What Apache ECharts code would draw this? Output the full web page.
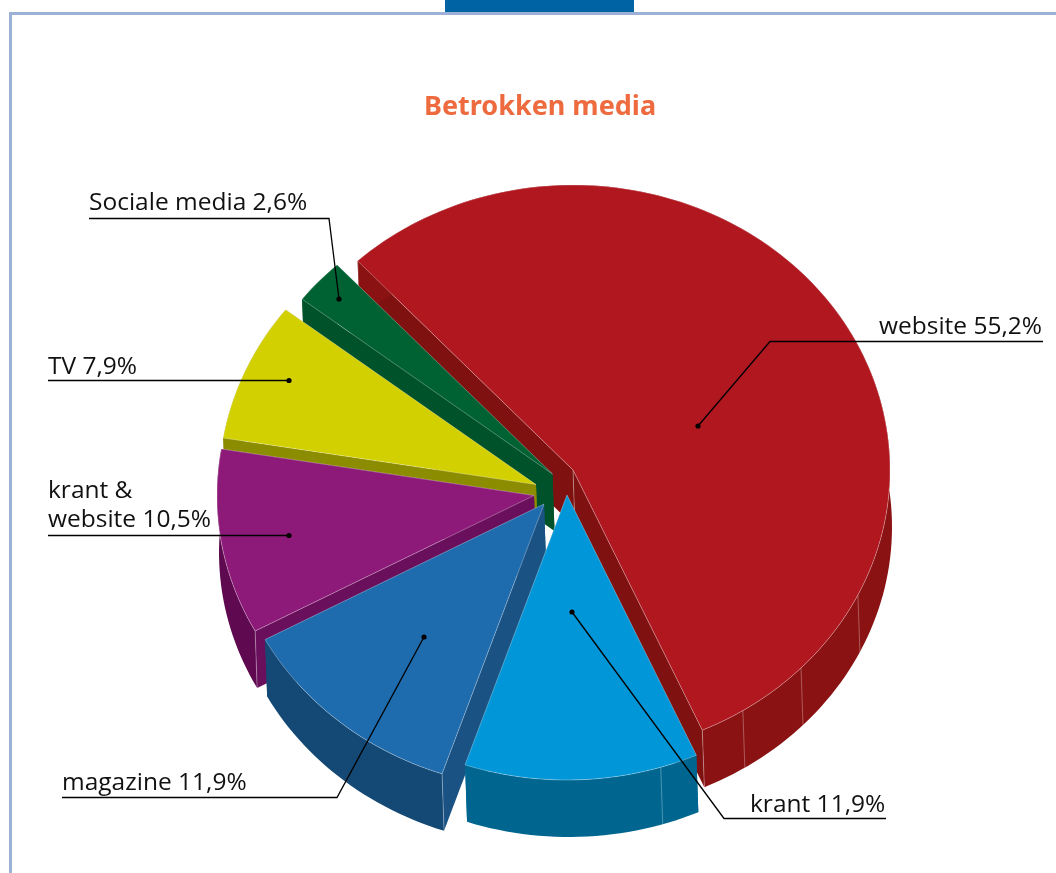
<!DOCTYPE html>
<html>
<head>
<meta charset="utf-8">
<style>html,body{margin:0;padding:0;background:#fff}#c{width:1056px;height:873px}</style>
<script src="https://cdn.jsdelivr.net/npm/echarts@6/dist/echarts.min.js"></script>
</head>
<body>
<div id="c"></div>
<script>
// ---- data ----
const titleText = 'Betrokken media';
const categories = ['website', 'krant', 'magazine', 'krant &\nwebsite', 'TV', 'Sociale media'];
const values = [55.2, 11.9, 11.9, 10.5, 7.9, 2.6];

// ---- styles ----
const topColors = ['#b1171f', '#0096d8', '#1e6bad', '#8d1a79', '#d2d000', '#006233'];
const radialColors = ['#7f1210', '#006690', '#1a5284', '#6a0f5b', '#8c8c00', '#00522a'];
const outerColors = ['#8a1212', '#006690', '#144875', '#5f0a50', '#8c8c00', '#00522a'];

// ---- layout of the exploded pie ----
const radiusX = 317, radiusY = 285, depth = 57, skew = 2, startAngle = -42.8;
const apexes = [[573, 470], [567, 495], [544, 504], [534, 495.5], [536, 484.5], [552.5, 474]];
const paintOrder = [0, 5, 4, 3, 2, 1];
const wallDividers = [[116, 134, 147.6], [162.8], [], [], [], []];
const seamCorners = [['start', 'end', 'apex'], [], ['start'], ['start'], [], []];
const leaders = [
  [[698, 426], [770, 341.5], [1043, 341.5]],
  [[572, 612], [724, 818.5], [886, 818.5]],
  [[424, 637], [337, 797.5], [62, 797.5]],
  [[289, 535.5], [48, 535.5]],
  [[289, 380.5], [48, 380.5]],
  [[339, 299], [329, 218.5], [89, 218.5]]
];
const labelAnchors = [[879, 342], [750, 820], [62, 798], [48, 535], [48, 382], [89, 218]];
const labelFont = '"Open Sans", "Noto Sans", sans-serif';

const total = values.reduce((s, v) => s + v, 0);
const spans = [];
values.reduce((acc, v, i) => {
  const next = acc + v / total * 360;
  spans[i] = [acc, next];
  return next;
}, startAngle);

const edge = 'rgba(255,255,255,0.38)';

function ellipsePoint(apex, deg) {
  const t = deg * Math.PI / 180;
  return [apex[0] + radiusX * Math.sin(t), apex[1] - radiusY * Math.cos(t)];
}
function extrude(p) {
  return [p[0] + skew, p[1] + depth];
}
function arc(apex, a0, a1) {
  const n = Math.max(2, Math.ceil(Math.abs(a1 - a0) / 1.5));
  const pts = [];
  for (let k = 0; k <= n; k++) pts.push(ellipsePoint(apex, a0 + (a1 - a0) * k / n));
  return pts;
}
function renderSlice(params) {
  const i = params.dataIndex, apex = apexes[i], s = spans[i][0], e = spans[i][1];
  const z = paintOrder.indexOf(i) * 10;
  const poly = (pts, fill, dz) => ({ type: 'polygon', z2: z + dz, shape: { points: pts }, style: { fill: fill }, silent: true });
  const line = (pts, dz) => ({ type: 'polyline', z2: z + dz, shape: { points: pts }, style: { fill: 'none', stroke: edge, lineWidth: 0.8 }, silent: true });
  const ps = ellipsePoint(apex, s), pe = ellipsePoint(apex, e);
  const corners = { start: ps, end: pe, apex: apex };
  const children = [];
  // radial cut faces
  children.push(poly([apex, ps, extrude(ps), extrude(apex)], radialColors[i], 1));
  children.push(poly([apex, pe, extrude(pe), extrude(apex)], radialColors[i], 1));
  // outer wall
  const upper = arc(apex, s, e), lower = upper.map(extrude);
  children.push(poly(upper.concat(lower.slice().reverse()), outerColors[i], 2));
  // pale vertical seams
  seamCorners[i].forEach(c => {
    const p = corners[c];
    children.push(line([p, extrude(p)], 3));
  });
  wallDividers[i].forEach(d => {
    const p = ellipsePoint(apex, d);
    children.push(line([p, extrude(p)], 3));
  });
  // top face
  const outline = [apex].concat(upper);
  children.push(poly(outline, topColors[i], 4));
  children.push(line(outline.concat([apex]), 5));
  return { type: 'group', children: children };
}

// ---- labels and leader lines ----
const annotationElements = [];
leaders.forEach((pts, i) => {
  annotationElements.push({ type: 'polyline', z: 20, silent: true, shape: { points: pts },
    style: { fill: 'none', stroke: '#000', lineWidth: 1.3 } });
  annotationElements.push({ type: 'circle', z: 21, silent: true, shape: { cx: pts[0][0], cy: pts[0][1], r: 2.6 },
    style: { fill: '#000' } });
  annotationElements.push({ type: 'text', z: 22, silent: true, x: labelAnchors[i][0], y: labelAnchors[i][1],
    style: { text: categories[i] + ' ' + values[i].toFixed(1).replace('.', ',') + '%',
      font: '24.5px ' + labelFont, lineHeight: 29, fill: '#111', textAlign: 'left', textVerticalAlign: 'bottom' } });
});

const chrome = [
  { type: 'rect', z: 0, silent: true, shape: { x: 445, y: 0, width: 189, height: 12 }, style: { fill: '#0063a3' } },
  { type: 'rect', z: 0, silent: true, shape: { x: 9, y: 12, width: 1047, height: 3 }, style: { fill: '#9db0d6' } },
  { type: 'rect', z: 0, silent: true, shape: { x: 9, y: 12, width: 3, height: 861 }, style: { fill: '#9db0d6' } }
];

const chart = echarts.init(document.getElementById('c'), null, { renderer: 'canvas', width: 1056, height: 873 });
chart.setOption({
  animation: false,
  backgroundColor: '#ffffff',
  title: { text: titleText, left: 419, top: 89,
    textStyle: { color: '#ee6a3f', fontFamily: '"Noto Sans", sans-serif', fontWeight: 'bold', fontSize: 27 } },
  graphic: { elements: chrome.concat(annotationElements) },
  series: [{
    type: 'custom',
    coordinateSystem: 'none',
    clip: false,
    renderItem: renderSlice,
    data: values.map((v, i) => ({ name: categories[i], value: [v] }))
  }]
});
</script>
</body>
</html>
